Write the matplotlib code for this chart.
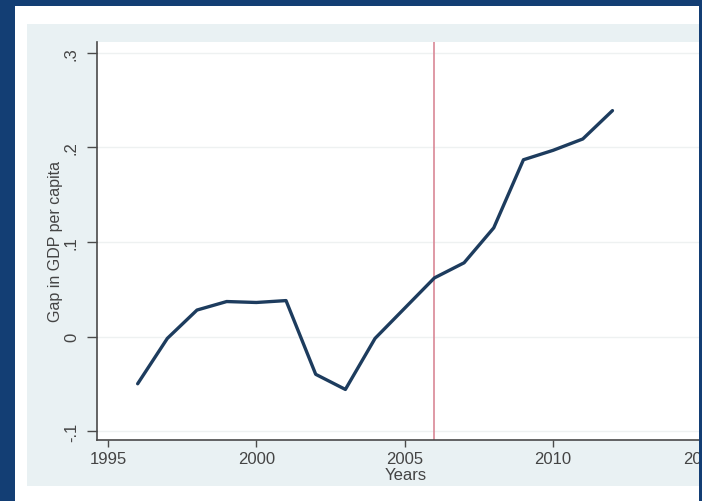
import matplotlib.pyplot as plt
from matplotlib.patches import Rectangle
from matplotlib.ticker import FixedLocator, FixedFormatter

plt.rcParams['font.family'] = ['Liberation Sans', 'DejaVu Sans']

# data
years = [1996, 1997, 1998, 1999, 2000, 2001, 2002, 2003, 2004,
         2005, 2006, 2007, 2008, 2009, 2010, 2011, 2012]
gap = [-0.050, -0.002, 0.028, 0.037, 0.036, 0.038, -0.040, -0.056, -0.002,
       0.030, 0.062, 0.078, 0.115, 0.187, 0.197, 0.209, 0.239]
treat_year = 2006
yticks = [-0.1, 0, 0.1, 0.2, 0.3]
ytick_labels = ['-.1', '0', '.1', '.2', '.3']
xticks = [1995, 2000, 2005, 2010, 2015]

W, H = 702, 502
fig = plt.figure(figsize=(W / 100, H / 100), dpi=100)
fig.patch.set_facecolor('#133e74')

def px_rect(x0, y0, x1, y1, color, z):
    # pixel box (top-left origin) -> figure rectangle
    fig.patches.append(Rectangle((x0 / W, 1 - y1 / H), (x1 - x0) / W, (y1 - y0) / H,
                                 transform=fig.transFigure, facecolor=color,
                                 edgecolor='none', zorder=z))

px_rect(15, 7, 760, 520, 'white', -3)
px_rect(27, 25, 760, 487, '#e9f1f3', -2)

# plot region in pixels (runs past the right edge, as in the screenshot)
left, right, top, bottom = 97, 746, 43, 441
ax = fig.add_axes([left / W, 1 - bottom / H, (right - left) / W, (bottom - top) / H])
ax.set_facecolor('white')

ax.plot(years, gap, color='#1d3c5e', lw=2.4, solid_capstyle='round',
        solid_joinstyle='round', zorder=3)
ax.axvline(treat_year, color='#d98896', lw=1.2, zorder=2)

ax.set_xlim(1994.63, 2016.5)
ax.set_ylim(-0.1095, 0.3116)

ax.yaxis.set_major_locator(FixedLocator(yticks))
ax.yaxis.set_major_formatter(FixedFormatter(ytick_labels))
ax.set_xticks(xticks)
ax.grid(axis='y', color='#eef1f1', lw=1, zorder=0)

for s in ['top', 'right']:
    ax.spines[s].set_visible(False)
for s in ['left', 'bottom']:
    ax.spines[s].set_color('#4a4a4a')
    ax.spines[s].set_linewidth(1.2)

ax.tick_params(axis='y', length=7, width=1, color='#4a4a4a', labelsize=12,
               labelcolor='#444444', pad=6, labelrotation=90)
for t in ax.get_yticklabels():
    t.set_va('center')
ax.tick_params(axis='x', length=5, width=1, color='#4a4a4a', labelsize=12,
               labelcolor='#444444', pad=3)

ax.set_xlabel('Years', fontsize=12, color='#444444')
ax.xaxis.set_label_coords((406 - left) / (right - left), (bottom - 468) / (bottom - top))
ax.set_ylabel('Gap in GDP per capita', fontsize=11.5, color='#444444')
ax.yaxis.set_label_coords((63 - left) / (right - left), 0.5)

# dark border on the right edge
px_rect(699, 0, 702, 502, '#133e74', 10)

fig.savefig('out.png', dpi=100, facecolor=fig.get_facecolor())
